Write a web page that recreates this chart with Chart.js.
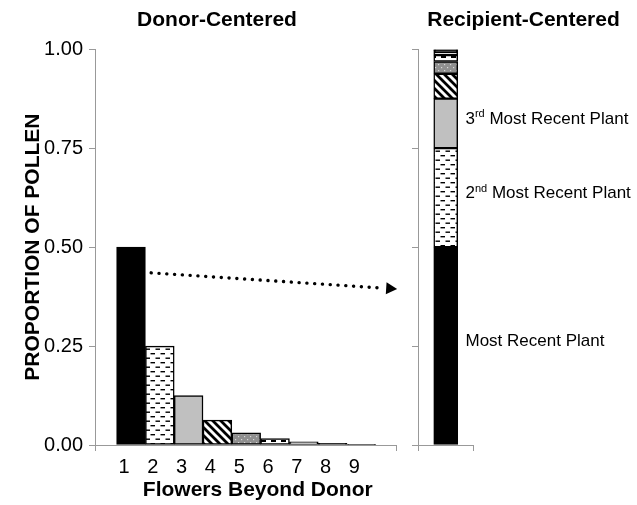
<!DOCTYPE html>
<html>
<head>
<meta charset="utf-8">
<script src="https://cdn.jsdelivr.net/npm/chart.js@4/dist/chart.umd.min.js"></script>
<style>
  html, body { margin: 0; padding: 0; background: #fff; }
  #wrap { position: relative; width: 637px; height: 505px; }
  #donorChart { position: absolute; left: 0; top: 0; }
  #recipChart { position: absolute; left: 410px; top: 0; }
</style>
</head>
<body>
<div id="wrap">
  <canvas id="donorChart" width="434" height="505"></canvas>
  <canvas id="recipChart" width="227" height="505"></canvas>
</div>
<script>
// data
const flowers = [1, 2, 3, 4, 5, 6, 7, 8, 9];
const donorShare = [0.5, 0.25, 0.125, 0.063, 0.031, 0.016, 0.008, 0.004, 0.002];
const recipientShare = [0.5, 0.25, 0.125, 0.063, 0.031, 0.016, 0.008, 0.004, 0.002];
const yTicks = [0, 0.25, 0.5, 0.75, 1];

// labels
const leftTitle = 'Donor-Centered';
const rightTitle = 'Recipient-Centered';
const yTitle = 'PROPORTION OF POLLEN';
const xTitle = 'Flowers Beyond Donor';
const segLabelIdx = [0, 1, 2];
const segOrd = ['', '2', '3'];
const segSup = ['', 'nd', 'rd'];
const segText = ['Most Recent Plant', ' Most Recent Plant', ' Most Recent Plant'];

// arrow from bar 1 towards the stacked bar (in left chart data units)
const arrowFrom = [1.7, 0.435];
const arrowTo = [10.24, 0.394];

const FAM = '"Liberation Sans", Arial, sans-serif';

// fill patterns
function tile(w, h, paint) {
  const c = document.createElement('canvas');
  c.width = w; c.height = h;
  const g = c.getContext('2d');
  paint(g, w, h);
  return g.createPattern(c, 'repeat');
}
const dashFill = tile(10, 9, g => {
  g.fillStyle = '#fff'; g.fillRect(0, 0, 10, 9);
  g.fillStyle = '#000';
  g.fillRect(0.5, 2, 4.5, 1.4);
  g.fillRect(5.5, 6.5, 4.5, 1.4);
});
const stripeFill = tile(8, 8, g => {
  g.fillStyle = '#fff'; g.fillRect(0, 0, 8, 8);
  g.strokeStyle = '#000'; g.lineWidth = 2.8;
  g.beginPath();
  g.moveTo(-1, -1); g.lineTo(9, 9);
  g.moveTo(-1, 7); g.lineTo(1, 9);
  g.moveTo(7, -1); g.lineTo(9, 1);
  g.stroke();
});
const dotFill = tile(6, 6, g => {
  g.fillStyle = '#8f8f8f'; g.fillRect(0, 0, 6, 6);
  g.fillStyle = '#d8d8d8';
  g.fillRect(1, 1, 1.2, 1.2);
  g.fillRect(4, 4, 1.2, 1.2);
});
const brickFill = tile(10, 6, g => {
  g.fillStyle = '#fff'; g.fillRect(0, 0, 10, 6);
  g.fillStyle = '#000';
  g.fillRect(1, 2, 5, 2);
});
const fills = ['#000', dashFill, '#c0c0c0', stripeFill, dotFill, brickFill, '#fff', '#000', '#000'];

const arrowPlugin = {
  id: 'arrow',
  afterDatasetsDraw(chart) {
    const xs = chart.scales.x, ys = chart.scales.y, ctx = chart.ctx;
    const x1 = xs.getPixelForValue(arrowFrom[0]), y1 = ys.getPixelForValue(arrowFrom[1]);
    const x2 = xs.getPixelForValue(arrowTo[0]), y2 = ys.getPixelForValue(arrowTo[1]);
    const len = Math.hypot(x2 - x1, y2 - y1);
    const ux = (x2 - x1) / len, uy = (y2 - y1) / len;
    const head = 11;
    ctx.save();
    ctx.strokeStyle = '#000';
    ctx.lineWidth = 3.4;
    ctx.lineCap = 'round';
    ctx.setLineDash([0.1, 7.7]);
    ctx.beginPath();
    ctx.moveTo(x1, y1);
    ctx.lineTo(x2 - ux * (head + 2), y2 - uy * (head + 2));
    ctx.stroke();
    ctx.setLineDash([]);
    ctx.fillStyle = '#000';
    ctx.beginPath();
    ctx.moveTo(x2, y2);
    ctx.lineTo(x2 - ux * head - uy * 6, y2 - uy * head + ux * 6);
    ctx.lineTo(x2 - ux * head + uy * 6, y2 - uy * head - ux * 6);
    ctx.closePath();
    ctx.fill();
    // x axis title
    ctx.font = 'bold 21px ' + FAM;
    ctx.textAlign = 'center';
    ctx.textBaseline = 'alphabetic';
    ctx.fillText(xTitle, xs.getPixelForValue(5.4), chart.height - 9);
    ctx.restore();
  }
};

const segLabelPlugin = {
  id: 'segLabels',
  afterDatasetsDraw(chart) {
    const ctx = chart.ctx;
    const x0 = chart.chartArea.right - 8;
    ctx.save();
    ctx.fillStyle = '#000';
    ctx.textAlign = 'left';
    ctx.textBaseline = 'middle';
    segLabelIdx.forEach((di, k) => {
      const bar = chart.getDatasetMeta(di).data[0];
      const y = (bar.y + bar.base) / 2 - 4;
      let cx = x0;
      ctx.font = '17px ' + FAM;
      if (segOrd[k]) {
        ctx.fillText(segOrd[k], cx, y);
        cx += ctx.measureText(segOrd[k]).width;
        ctx.font = '11px ' + FAM;
        ctx.fillText(segSup[k], cx, y - 5);
        cx += ctx.measureText(segSup[k]).width;
        ctx.font = '17px ' + FAM;
      }
      ctx.fillText(segText[k], cx, y);
    });
    ctx.restore();
  }
};

const titleOpts = text => ({
  display: true, text: text, color: '#000',
  font: { family: FAM, size: 21, weight: 'bold' },
  padding: { top: 8, bottom: 16 }
});

// empty axis on the right that only reserves room
const spacer = w => ({
  position: 'right', display: true,
  afterFit: s => { s.width = w; },
  grid: { display: false }, border: { display: false }, ticks: { display: false }
});

new Chart(document.getElementById('donorChart'), {
  type: 'bar',
  data: {
    datasets: [{
      data: flowers.map((f, i) => ({ x: f, y: donorShare[i] })),
      backgroundColor: fills,
      borderColor: '#000',
      borderWidth: 1.5,
      borderSkipped: false,
      categoryPercentage: 1,
      barPercentage: 1
    }]
  },
  options: {
    responsive: false,
    animation: false,
    layout: { padding: 0 },
    plugins: {
      legend: { display: false },
      tooltip: { enabled: false },
      title: titleOpts(leftTitle)
    },
    scales: {
      x: {
        type: 'linear', min: -0.25, max: 10.2, offset: false,
        afterBuildTicks: s => { s.ticks = [-0.25, ...flowers, 10.2].map(v => ({ value: v })); },
        afterFit: s => { s.height = 60; },
        grid: {
          offset: false, drawOnChartArea: false, tickLength: 6,
          color: c => (c.tick && flowers.includes(c.tick.value)) ? 'rgba(0,0,0,0)' : '#999'
        },
        border: { color: '#999' },
        ticks: {
          color: '#000', font: { family: FAM, size: 20 }, padding: 4, labelOffset: -7,
          autoSkip: false, maxRotation: 0,
          callback: v => flowers.includes(v) ? String(v) : ''
        }
      },
      y: {
        min: 0, max: 1,
        afterBuildTicks: s => { s.ticks = yTicks.map(v => ({ value: v })); },
        afterFit: s => { s.width = 95; },
        ticks: { color: '#000', font: { family: FAM, size: 20 }, padding: 6, callback: v => v.toFixed(2) },
        grid: { drawOnChartArea: false, tickLength: 6, color: '#999' },
        border: { color: '#999' },
        title: {
          display: true, text: yTitle, color: '#000',
          font: { family: FAM, size: 21, weight: 'bold' },
          padding: { top: 21, bottom: 0 }
        }
      },
      pad: spacer(38)
    }
  },
  plugins: [arrowPlugin]
});

new Chart(document.getElementById('recipChart'), {
  type: 'bar',
  data: {
    labels: [''],
    datasets: recipientShare.map((v, i) => ({
      data: [v],
      backgroundColor: fills[i],
      borderColor: '#000',
      borderWidth: 1.5,
      borderSkipped: false,
      barThickness: 24
    }))
  },
  options: {
    responsive: false,
    animation: false,
    layout: { padding: 0 },
    plugins: {
      legend: { display: false },
      tooltip: { enabled: false },
      title: titleOpts(rightTitle)
    },
    scales: {
      x: {
        stacked: true,
        afterFit: s => { s.height = 60; },
        ticks: { display: false },
        grid: { offset: true, drawOnChartArea: false, tickLength: 6, color: '#999' },
        border: { color: '#999' }
      },
      y: {
        stacked: true, min: 0, max: 1,
        afterBuildTicks: s => { s.ticks = yTicks.map(v => ({ value: v })); },
        afterFit: s => { s.width = 8; },
        ticks: { display: false },
        grid: { drawOnChartArea: false, tickLength: 6, color: '#999' },
        border: { color: '#999' }
      },
      pad: spacer(163.5)
    }
  },
  plugins: [segLabelPlugin]
});
</script>
</body>
</html>
